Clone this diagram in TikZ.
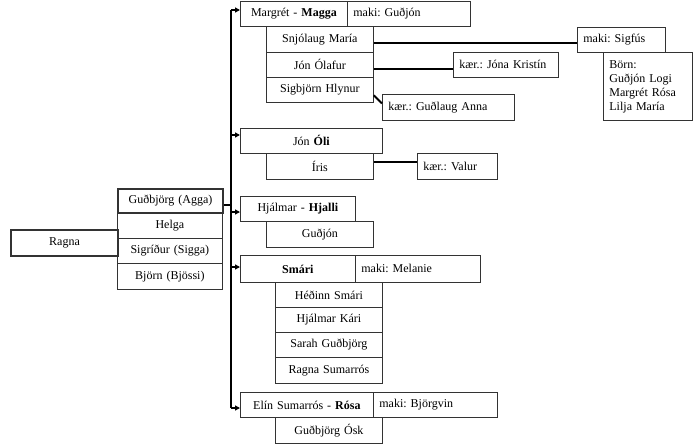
\documentclass[tikz,border=0pt]{standalone}
\usepackage{fontspec}
\setmainfont{Liberation Serif}
\usetikzlibrary{arrows.meta}
\frenchspacing
\tikzset{
  bx/.style={draw=black!80, line width=0.8pt, inner sep=0pt, inner ysep=0pt, anchor=north west, font=\fontsize{12}{14}\selectfont\frenchspacing},
  thickbx/.style={bx, line width=2pt},
  bus/.style={line width=2pt, black},
  link/.style={line width=2pt, black},
  arr/.style={line width=2pt, black, -{Triangle[length=5pt,width=5pt]}},
}
% \rbx[style]{name}{x1}{y1}{x2}{y2}{align}{text}
\newcommand\rbx[8][bx]{%
  \node[#1, minimum width={#5-#3}, minimum height={#6-#4}, text width={#5-#3-12}, inner xsep=6pt, align=#7] (#2) at (#3,#4) {#8};}
\begin{document}
\begin{tikzpicture}[x=1pt,y=-1pt]
\useasboundingbox (0,0) rectangle (700,444);
\fill[white] (0,0) rectangle (700,444);
% left
\rbx[thickbx]{ragna}{10}{229}{117}{255}{center}{Ragna}
\rbx{helga}{117}{212}{222}{237.5}{center}{Helga}
\rbx{sigga}{117}{237.5}{222}{263}{center}{Sigríður (Sigga)}
\rbx{bjossi}{117}{263}{222}{289}{center}{Björn (Bjössi)}
\rbx[thickbx]{agga}{117}{188}{222}{212}{center}{Guðbjörg (Agga)}
% Margrét
\rbx{magga}{240}{1}{347}{26}{center}{Margrét - \textbf{Magga}}
\rbx{maggam}{347}{1}{470}{26}{left}{maki: Guðjón}
\rbx{snjo}{266}{26}{373}{52}{center}{Snjólaug María}
\rbx{jonol}{266}{52}{373}{77}{center}{Jón Ólafur}
\rbx{sigb}{266}{77}{373}{102}{center}{Sigbjörn Hlynur}
\rbx{sigfus}{577}{27}{665}{52}{left}{maki: Sigfús}
\rbx{born}{603}{52}{692}{120}{left}{Börn:\\Guðjón Logi\\Margrét Rósa\\Lilja María}
\rbx{jona}{453}{52}{558}{77}{left}{kær.: Jóna Kristín}
\rbx{gudl}{382}{94}{514}{120}{left}{kær.: Guðlaug Anna}
% Jón Óli
\rbx{oli}{240}{128}{382}{153}{center}{Jón \textbf{Óli}}
\rbx{iris}{266}{153}{373}{179}{center}{Íris}
\rbx{valur}{417}{153}{497}{179}{left}{kær.: Valur}
% Hjálmar
\rbx{hjalli}{240}{196}{355}{221}{center}{Hjálmar - \textbf{Hjalli}}
\rbx{gudjon}{266}{221}{373}{247}{center}{Guðjón}
% Smári
\rbx{smari}{240}{255}{355}{282}{center}{\textbf{Smári}}
\rbx{smarim}{355}{255}{480}{282}{left}{maki: Melanie}
\rbx{hedinn}{275}{282}{382}{307}{center}{Héðinn Smári}
\rbx{kari}{275}{307}{382}{332}{center}{Hjálmar Kári}
\rbx{sarah}{275}{332}{382}{357}{center}{Sarah Guðbjörg}
\rbx{ragnas}{275}{357}{382}{383}{center}{Ragna Sumarrós}
% Rósa
\rbx{rosa}{240}{392}{373}{417}{center}{Elín Sumarrós - \textbf{Rósa}}
\rbx{rosam}{373}{392}{497}{417}{left}{maki: Björgvin}
\rbx{osk}{275}{417}{382}{443}{center}{Guðbjörg Ósk}
% bus
\coordinate (a1) at (231,10);
\coordinate (a2) at (231,135);
\coordinate (a3) at (231,212);
\coordinate (a4) at (231,267);
\coordinate (a5) at (231,408);
\draw[bus] ([yshift=-4pt]agga.east) -- ([yshift=-4pt]agga.east -| a1);
\draw[bus] (a1) -- (a5);
\draw[arr] (a1) -- (a1 -| magga.west);
\draw[arr] (a2) -- (a2 -| oli.west);
\draw[arr] (a3) -- (a3 -| hjalli.west);
\draw[arr] (a4) -- (a4 -| smari.west);
\draw[arr] (a5) -- (a5 -| rosa.west);
% partner links
\draw[link] ([yshift=-4pt]snjo.east) -- ([yshift=-4pt]snjo.east -| sigfus.west);
\draw[link] ([yshift=-4.5pt]jonol.east) -- ([yshift=-4.5pt]jonol.east -| jona.west);
\draw[link] ([yshift=4pt]iris.east) -- ([yshift=4pt]iris.east -| valur.west);
\draw[link] ([yshift=-5.5pt]sigb.east) -- ([yshift=4pt]gudl.west);
\end{tikzpicture}
\end{document}
